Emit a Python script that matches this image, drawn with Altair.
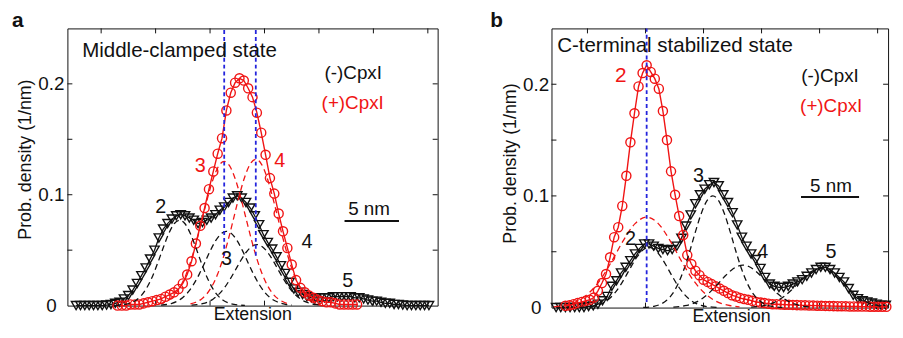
import altair as alt
import pandas as pd

FONT = "Liberation Sans"
BLACK = "#111111"
RED = "#f01414"
BLUE = "#2424dc"

# ---------------- panel a : Middle-clamped state ----------------
A_BLK_X = [0.8, 1.2, 1.6, 2.0, 2.4, 2.8, 3.2, 3.6, 4.0, 4.4,
           4.8, 5.2, 5.6, 6.0, 6.4, 6.8, 7.2, 7.6, 8.0, 8.4,
           8.8, 9.2, 9.6, 10.0, 10.4, 10.8, 11.2, 11.6, 12.0, 12.4,
           12.8, 13.2, 13.6, 14.0, 14.4, 14.8, 15.2, 15.6, 16.0, 16.4,
           16.8, 17.2, 17.6, 18.0, 18.4, 18.8, 19.2, 19.6, 20.0, 20.4,
           20.8, 21.2, 21.6, 22.0, 22.4, 22.8, 23.2, 23.6, 24.0, 24.4,
           24.8, 25.2, 25.6, 26.0, 26.4, 26.8, 27.2, 27.6, 28.0, 28.4,
           28.8, 29.2, 29.6, 30.0, 30.4, 30.8, 31.2, 31.6, 32.0, 32.4,
           32.8, 33.2]
A_BLK_Y = [0, 0, 0, 0, 0, 0, 0, 0.0005, 0.001, 0.002,
           0.003, 0.006, 0.009, 0.014, 0.020, 0.027, 0.034, 0.042, 0.050, 0.061,
           0.069, 0.074, 0.078, 0.081, 0.082, 0.081, 0.079, 0.077, 0.074, 0.075,
           0.077, 0.079, 0.082, 0.086, 0.089, 0.093, 0.097, 0.099, 0.097, 0.093,
           0.088, 0.081, 0.073, 0.064, 0.057, 0.051, 0.044, 0.036, 0.029, 0.021,
           0.015, 0.012, 0.010, 0.008, 0.007, 0.007, 0.007, 0.007, 0.007, 0.008,
           0.008, 0.008, 0.008, 0.008, 0.007, 0.007, 0.006, 0.005, 0.004, 0.004,
           0.003, 0.002, 0.002, 0.001, 0.001, 0.0005, 0, 0, 0, 0,
           0, 0]

A_RED_X = [4.6, 5.0, 5.4, 5.8, 6.2, 6.6, 7.0, 7.4, 7.8, 8.2,
           8.6, 9.0, 9.4, 9.8, 10.2, 10.6, 11.0, 11.4, 11.8, 12.2,
           12.6, 13.0, 13.4, 13.8, 14.2, 14.6, 15.0, 15.4, 15.8, 16.2,
           16.6, 17.0, 17.4, 17.8, 18.2, 18.6, 19.0, 19.4, 19.8, 20.2,
           20.6, 21.0, 21.4, 21.8, 22.2, 22.6, 23.0, 23.4, 23.8, 24.2,
           24.6, 25.0, 25.4, 25.8, 26.2, 26.6]
A_RED_Y = [0, 0, 0, 0.001, 0.001, 0.001, 0.002, 0.003, 0.004, 0.005,
           0.006, 0.008, 0.010, 0.012, 0.015, 0.020, 0.028, 0.040, 0.056, 0.072,
           0.088, 0.105, 0.121, 0.137, 0.151, 0.176, 0.192, 0.201, 0.205, 0.203,
           0.196, 0.188, 0.174, 0.156, 0.136, 0.115, 0.101, 0.083, 0.067, 0.052,
           0.037, 0.023, 0.016, 0.012, 0.009, 0.007, 0.005, 0.004, 0.003, 0.003,
           0.002, 0.001, 0.001, 0.001, 0.001, 0.001]

# fitted Gaussian components (dashed)
A_FIT2_X = [4.3, 4.8, 5.3, 5.8, 6.3, 6.8, 7.3, 7.8, 8.3, 8.8, 9.3, 9.8, 10.3,
            10.8, 11.3, 11.8, 12.3, 12.8, 13.3, 13.8, 14.3, 14.8, 15.3, 15.8, 16.3]
A_FIT2_Y = [0.0002, 0.0004, 0.001, 0.0023, 0.0048, 0.0092, 0.0162, 0.0261, 0.0386, 0.0522, 0.0648, 0.0738, 0.077,
            0.0738, 0.0648, 0.0522, 0.0386, 0.0261, 0.0162, 0.0092, 0.0048, 0.0023, 0.001, 0.0004, 0.0002]
A_FIT3_X = [8.6, 9.1, 9.6, 10.1, 10.6, 11.1, 11.6, 12.1, 12.6, 13.1, 13.6, 14.1, 14.6,
            15.1, 15.6, 16.1, 16.6, 17.1, 17.6, 18.1, 18.6, 19.1, 19.6, 20.1, 20.6]
A_FIT3_Y = [0.0005, 0.001, 0.0021, 0.0041, 0.0073, 0.0123, 0.0193, 0.0282, 0.0385, 0.0491, 0.0583, 0.0647, 0.067,
            0.0647, 0.0583, 0.0491, 0.0385, 0.0282, 0.0193, 0.0123, 0.0073, 0.0041, 0.0021, 0.001, 0.0005]
A_FIT4_X = [11.4, 11.9, 12.4, 12.9, 13.4, 13.9, 14.4, 14.9, 15.4, 15.9, 16.4, 16.9, 17.4,
            17.9, 18.4, 18.9, 19.4, 19.9, 20.4, 20.9, 21.4, 21.9, 22.4, 22.9, 23.4]
A_FIT4_Y = [0.0004, 0.0008, 0.0017, 0.0033, 0.006, 0.0101, 0.0158, 0.0232, 0.0316, 0.0403, 0.0479, 0.0531, 0.055,
            0.0531, 0.0479, 0.0403, 0.0316, 0.0232, 0.0158, 0.0101, 0.006, 0.0033, 0.0017, 0.0008, 0.0004]
A_RFIT3_X = [8.4, 8.9, 9.4, 9.9, 10.4, 10.9, 11.4, 11.9, 12.4, 12.9, 13.4, 13.9, 14.4,
             14.9, 15.4, 15.9, 16.4, 16.9, 17.4, 17.9, 18.4, 18.9, 19.4, 19.9, 20.4]
A_RFIT3_Y = [0.0014, 0.003, 0.0057, 0.0103, 0.0176, 0.0281, 0.0422, 0.0595, 0.0788, 0.0982, 0.1147, 0.126, 0.13,
             0.126, 0.1147, 0.0982, 0.0788, 0.0595, 0.0422, 0.0281, 0.0176, 0.0103, 0.0057, 0.003, 0.0014]
A_RFIT4_X = [11.3, 11.8, 12.3, 12.8, 13.3, 13.8, 14.3, 14.8, 15.3, 15.8, 16.3, 16.8, 17.3,
             17.8, 18.3, 18.8, 19.3, 19.8, 20.3, 20.8, 21.3, 21.8, 22.3, 22.8, 23.3]
A_RFIT4_Y = [0.0015, 0.003, 0.0058, 0.0105, 0.0179, 0.0285, 0.0429, 0.0605, 0.0801, 0.0997, 0.1165, 0.1279, 0.132,
             0.1279, 0.1165, 0.0997, 0.0801, 0.0605, 0.0429, 0.0285, 0.0179, 0.0105, 0.0058, 0.003, 0.0015]

A_BLUE_X = [14.4, 17.3]
A_BLUE_LO = [0.045, 0.045]
A_BAR = [25.45, 30.45, 0.0764]
A_XTICKS = [3.1, 8.1, 13.1, 18.1, 23.1, 28.1, 33.1]

A_LABELS = ["(-)CpxI", "(+)CpxI", "3", "4", "2", "3", "4", "5", "5 nm", "Extension"]
A_LAB_X = [26.25, 26.2, 12.2, 19.5, 8.57, 14.6, 22.0, 25.75, 27.7, 17.02]
A_LAB_Y = [0.2047, 0.1774, 0.1202, 0.1246, 0.0832, 0.0365, 0.0524, 0.0172, 0.0814, -0.0134]
A_LAB_C = [BLACK, RED, RED, RED, BLACK, BLACK, BLACK, BLACK, BLACK, BLACK]
A_LAB_FS = [19, 19, 20, 20, 20, 20, 20, 20, 19, 18]
A_TITLE = ("Middle-clamped state", 1.36, 0.224)
A_LETTER = ("a", -4.55, 0.2509)

# ---------------- panel b : C-terminal stabilized state ----------------
B_BLK_X = [0.4, 0.8, 1.2, 1.6, 2.0, 2.4, 2.8, 3.2, 3.6, 4.0,
           4.4, 4.8, 5.2, 5.6, 6.0, 6.4, 6.8, 7.2, 7.6, 8.0,
           8.4, 8.8, 9.2, 9.6, 10.0, 10.4, 10.8, 11.2, 11.6, 12.0,
           12.4, 12.8, 13.2, 13.6, 14.0, 14.4, 14.8, 15.2, 15.6, 16.0,
           16.4, 16.8, 17.2, 17.6, 18.0, 18.4, 18.8, 19.2, 19.6, 20.0,
           20.4, 20.8, 21.2, 21.6, 22.0, 22.4, 22.8, 23.2, 23.6, 24.0,
           24.4, 24.8, 25.2, 25.6, 26.0, 26.4, 26.8, 27.2, 27.6, 28.0,
           28.4, 28.8]
B_BLK_Y = [0, 0, 0, 0, 0, 0, 0, 0.001, 0.0015, 0.003,
           0.006, 0.010, 0.019, 0.024, 0.031, 0.036, 0.042, 0.048, 0.053, 0.057,
           0.057, 0.055, 0.053, 0.052, 0.051, 0.052, 0.055, 0.062, 0.073, 0.083,
           0.093, 0.101, 0.106, 0.110, 0.112, 0.109, 0.101, 0.094, 0.085, 0.074,
           0.063, 0.055, 0.048, 0.043, 0.035, 0.027, 0.021, 0.019, 0.018, 0.018,
           0.019, 0.021, 0.023, 0.025, 0.028, 0.031, 0.034, 0.036, 0.036, 0.034,
           0.031, 0.027, 0.023, 0.017, 0.011, 0.008, 0.006, 0.005, 0.004, 0.003,
           0.002, 0.002]

B_RED_X = [1.20, 1.55, 1.90, 2.25, 2.60, 2.95, 3.30, 3.65, 4.00, 4.35,
           4.70, 5.05, 5.40, 5.75, 6.10, 6.45, 6.80, 7.15, 7.50, 7.85,
           8.20, 8.55, 8.90, 9.25, 9.60, 9.95, 10.30, 10.65, 11.00, 11.35,
           11.70, 12.05, 12.40, 12.75, 13.10, 13.45, 13.80, 14.15, 14.50, 14.85,
           15.20, 15.55, 15.90, 16.25, 16.60, 16.95, 17.30, 17.65, 18.00, 18.35,
           18.70, 19.05, 19.40, 19.75, 20.10, 20.45, 20.80, 21.15, 21.50, 21.85,
           22.20, 22.55, 22.90, 23.25, 23.60, 23.95, 24.30, 24.65, 25.00, 25.35,
           25.70, 26.05, 26.40, 26.75, 27.10, 27.45, 27.80, 28.15, 28.50, 28.85]
B_RED_Y = [0.0016, 0.002, 0.003, 0.004, 0.005, 0.006, 0.007, 0.009, 0.015, 0.022,
           0.030, 0.045, 0.063, 0.072, 0.091, 0.118, 0.148, 0.174, 0.198, 0.210,
           0.217, 0.211, 0.205, 0.196, 0.176, 0.150, 0.122, 0.101, 0.082, 0.065,
           0.047, 0.039, 0.033, 0.029, 0.025, 0.023, 0.021, 0.019, 0.017, 0.015,
           0.013, 0.011, 0.010, 0.0085, 0.0077, 0.007, 0.006, 0.005, 0.0045, 0.004,
           0.0035, 0.003, 0.003, 0.0028, 0.0026, 0.0025, 0.0024, 0.0022, 0.002, 0.002,
           0.0019, 0.0018, 0.0017, 0.0016, 0.0015, 0.0014, 0.0013, 0.0012, 0.0012, 0.0011,
           0.001, 0.001, 0.001, 0.0009, 0.0009, 0.0008, 0.0008, 0.0008, 0.0007, 0.0007]

B_FIT2_X = [2.4, 2.9, 3.4, 3.9, 4.4, 4.9, 5.4, 5.9, 6.4, 6.9, 7.4, 7.9, 8.4,
            8.9, 9.4, 9.9, 10.4, 10.9, 11.4, 11.9, 12.4, 12.9, 13.4, 13.9, 14.4]
B_FIT2_Y = [0.0002, 0.0004, 0.0009, 0.002, 0.004, 0.0073, 0.0124, 0.0194, 0.0281, 0.0374, 0.0458, 0.0518, 0.054,
            0.0518, 0.0458, 0.0374, 0.0281, 0.0194, 0.0124, 0.0073, 0.004, 0.002, 0.0009, 0.0004, 0.0002]
B_FIT3_X = [7.9, 8.4, 8.9, 9.4, 9.9, 10.4, 10.9, 11.4, 11.9, 12.4, 12.9, 13.4, 13.9,
            14.4, 14.9, 15.4, 15.9, 16.4, 16.9, 17.4, 17.9, 18.4, 18.9, 19.4, 19.9]
B_FIT3_Y = [0.0002, 0.0005, 0.0013, 0.003, 0.0063, 0.012, 0.0211, 0.0339, 0.05, 0.0678, 0.0841, 0.0958, 0.1,
            0.0958, 0.0841, 0.0678, 0.05, 0.0339, 0.0211, 0.012, 0.0063, 0.003, 0.0013, 0.0005, 0.0002]
B_FIT4_X = [10.5, 11.0, 11.5, 12.0, 12.5, 13.0, 13.5, 14.0, 14.5, 15.0, 15.5, 16.0, 16.5,
            17.0, 17.5, 18.0, 18.5, 19.0, 19.5, 20.0, 20.5, 21.0, 21.5, 22.0, 22.5]
B_FIT4_Y = [0.0004, 0.0009, 0.0017, 0.003, 0.0051, 0.0082, 0.0123, 0.0174, 0.023, 0.0287, 0.0335, 0.0368, 0.038,
            0.0368, 0.0335, 0.0287, 0.023, 0.0174, 0.0123, 0.0082, 0.0051, 0.003, 0.0017, 0.0009, 0.0004]
B_FIT5_X = [17.2, 17.7, 18.2, 18.7, 19.2, 19.7, 20.2, 20.7, 21.2, 21.7, 22.2, 22.7, 23.2,
            23.7, 24.2, 24.7, 25.2, 25.7, 26.2, 26.7, 27.2, 27.7, 28.2, 28.7]
B_FIT5_Y = [0.0004, 0.0008, 0.0015, 0.0028, 0.0047, 0.0076, 0.0114, 0.016, 0.0212, 0.0264, 0.0309, 0.0339, 0.035,
            0.0339, 0.0309, 0.0264, 0.0212, 0.016, 0.0114, 0.0076, 0.0047, 0.0028, 0.0015, 0.0008]
B_RFIT_X = [0.2, 1.2, 2.2, 3.2, 4.2, 5.2, 6.2, 7.2, 8.2, 9.2, 10.2, 11.2, 12.2, 13.2, 14.2, 15.2, 16.2]
B_RFIT_Y = [0.0007, 0.0022, 0.0056, 0.0128, 0.0248, 0.0416, 0.0602, 0.0752, 0.081, 0.0752, 0.0602, 0.0416,
            0.0248, 0.0128, 0.0056, 0.0022, 0.0007]

B_BLUE_X = [8.2]
B_BLUE_LO = [0.005]
B_BAR = [21.5, 26.5, 0.099]
B_XTICKS = [3.1, 8.1, 13.1, 18.1, 23.1, 28.1]

B_LABELS = ["(-)CpxI", "(+)CpxI", "2", "2", "3", "4", "5", "5 nm", "Extension"]
B_LAB_X = [24.0, 24.1, 5.96, 6.81, 12.67, 18.2, 24.08, 24.08, 15.51]
B_LAB_Y = [0.2023, 0.1753, 0.2023, 0.0557, 0.1125, 0.0444, 0.0444, 0.1038, -0.0133]
B_LAB_C = [BLACK, RED, RED, BLACK, BLACK, BLACK, BLACK, BLACK, BLACK]
B_LAB_FS = [19, 19, 21, 20, 20, 20, 20, 19, 18]
B_TITLE = ("C-terminal stabilized state", 0.49, 0.2286)
B_LETTER = ("b", -4.73, 0.2509)

Y_TICKS = [0.05, 0.1, 0.15, 0.2]
Y_LABELS = [0, 0.1, 0.2]
Y_MAX = 0.25


def xy(xs, ys):
    assert len(xs) == len(ys)
    return pd.DataFrame({"x": xs, "y": ys})


def fits(*comps):
    rows = []
    for name, xs, ys in comps:
        assert len(xs) == len(ys)
        rows += [{"g": name, "x": a, "y": b} for a, b in zip(xs, ys)]
    return pd.DataFrame(rows)


def panel(W, H, xmax, blk, red, fitb, fitr, blue_x, blue_lo, bar, xticks,
          labels, lab_x, lab_y, lab_c, lab_fs, title, letter, ylab_pad, ytitle_y):
    xs = alt.Scale(domain=[0, xmax], nice=False, zero=False)
    ys = alt.Scale(domain=[0, Y_MAX], nice=False, zero=False)

    def nx(f):
        return alt.X(f, type="quantitative", scale=xs, axis=None)

    def ny(f):
        return alt.Y(f, type="quantitative", scale=ys)

    yax = alt.Axis(title="Prob. density (1/nm)", values=Y_LABELS, format="~g",
                   labelAlign="center", labelPadding=ylab_pad, labelFontSize=19,
                   labelColor=BLACK, labelFont=FONT, ticks=False, tickSize=0,
                   domain=False, grid=False, titleFontSize=18, titleFontWeight="normal",
                   titleColor=BLACK, titleFont=FONT, titlePadding=3, titleY=ytitle_y)

    # layer that carries the y axis comes first
    blk_line = alt.Chart(blk).mark_line(color=BLACK, strokeWidth=1.3).encode(
        x=nx("x"), y=alt.Y("y:Q", scale=ys, axis=yax))

    yt = pd.DataFrame({"v": Y_TICKS})
    xt = pd.DataFrame({"t": xticks})
    rule = dict(color=BLACK, strokeWidth=1)
    tick_l = alt.Chart(yt).mark_rule(**rule).encode(y=ny("v"), x=alt.value(0), x2=alt.value(5))
    tick_r = alt.Chart(yt).mark_rule(**rule).encode(y=ny("v"), x=alt.value(W - 5), x2=alt.value(W))
    tick_t = alt.Chart(xt).mark_rule(**rule).encode(x=nx("t"), y=alt.value(0), y2=alt.value(5))
    tick_b = alt.Chart(xt).mark_rule(**rule).encode(x=nx("t"), y=alt.value(H - 5), y2=alt.value(H))

    blk_pts = alt.Chart(blk).mark_point(shape="triangle-down", filled=False, size=90,
                                        color=BLACK, strokeWidth=1.4, opacity=1).encode(
        x=nx("x"), y=ny("y"))
    red_line = alt.Chart(red).mark_line(color=RED, strokeWidth=1.4).encode(x=nx("x"), y=ny("y"))
    red_pts = alt.Chart(red).mark_point(shape="circle", filled=False, size=85,
                                        color=RED, strokeWidth=1.4, opacity=1).encode(
        x=nx("x"), y=ny("y"))
    fit_b = alt.Chart(fitb).mark_line(color=BLACK, strokeDash=[6, 4], strokeWidth=1.3,
                                      interpolate="monotone").encode(
        x=nx("x"), y=ny("y"), detail="g:N")
    fit_r = alt.Chart(fitr).mark_line(color=RED, strokeDash=[6, 4], strokeWidth=1.3,
                                      interpolate="monotone").encode(
        x=nx("x"), y=ny("y"), detail="g:N")
    bl = pd.DataFrame({"x": blue_x, "lo": blue_lo, "hi": [Y_MAX] * len(blue_x)})
    blue = alt.Chart(bl).mark_rule(color=BLUE, strokeDash=[4, 3], strokeWidth=1.8).encode(
        x=nx("x"), y=ny("lo"), y2="hi:Q")
    bd = pd.DataFrame({"x1": [bar[0]], "x2": [bar[1]], "y": [bar[2]]})
    sbar = alt.Chart(bd).mark_rule(color=BLACK, strokeWidth=2).encode(
        x=nx("x1"), x2="x2:Q", y=ny("y"))
    ld = pd.DataFrame({"s": labels, "x": lab_x, "y": lab_y, "c": lab_c, "fs": lab_fs})
    lab = alt.Chart(ld).mark_text(align="center", baseline="alphabetic", font=FONT).encode(
        x=nx("x"), y=ny("y"), text="s:N",
        color=alt.Color("c:N", scale=None), size=alt.Size("fs:Q", scale=None))
    td = pd.DataFrame({"s": [title[0]], "x": [title[1]], "y": [title[2]]})
    ttl = alt.Chart(td).mark_text(align="left", baseline="alphabetic", font=FONT,
                                  fontSize=20.7, color=BLACK).encode(
        x=nx("x"), y=ny("y"), text="s:N")
    ltd = pd.DataFrame({"s": [letter[0]], "x": [letter[1]], "y": [letter[2]]})
    let = alt.Chart(ltd).mark_text(align="center", baseline="alphabetic", font=FONT,
                                   fontSize=21, fontWeight="bold", color=BLACK).encode(
        x=nx("x"), y=ny("y"), text="s:N")

    return alt.layer(blk_line, tick_l, tick_r, tick_t, tick_b, blk_pts, red_line, red_pts,
                     fit_b, fit_r, blue, sbar, lab, ttl, let).properties(width=W, height=H)


pa = panel(374, 280, 34.0, xy(A_BLK_X, A_BLK_Y), xy(A_RED_X, A_RED_Y),
           fits(("2", A_FIT2_X, A_FIT2_Y), ("3", A_FIT3_X, A_FIT3_Y), ("4", A_FIT4_X, A_FIT4_Y)),
           fits(("3", A_RFIT3_X, A_RFIT3_Y), ("4", A_RFIT4_X, A_RFIT4_Y)),
           A_BLUE_X, A_BLUE_LO, A_BAR, A_XTICKS,
           A_LABELS, A_LAB_X, A_LAB_Y, A_LAB_C, A_LAB_FS, A_TITLE, A_LETTER,
           ylab_pad=16.7, ytitle_y=132)

pb = panel(340, 282, 29.0, xy(B_BLK_X, B_BLK_Y), xy(B_RED_X, B_RED_Y),
           fits(("2", B_FIT2_X, B_FIT2_Y), ("3", B_FIT3_X, B_FIT3_Y),
                ("4", B_FIT4_X, B_FIT4_Y), ("5", B_FIT5_X, B_FIT5_Y)),
           fits(("2", B_RFIT_X, B_RFIT_Y)),
           B_BLUE_X, B_BLUE_LO, B_BAR, B_XTICKS,
           B_LABELS, B_LAB_X, B_LAB_Y, B_LAB_C, B_LAB_FS, B_TITLE, B_LETTER,
           ylab_pad=16, ytitle_y=136)

chart = (alt.hconcat(pa, pb, spacing=51)
         .properties(padding={"left": 3, "top": 0, "right": 0, "bottom": -2})
         .configure(font=FONT)
         .configure_view(stroke=BLACK, strokeWidth=1))

chart.save("out.html", embed_options={"renderer": "svg", "actions": False})
